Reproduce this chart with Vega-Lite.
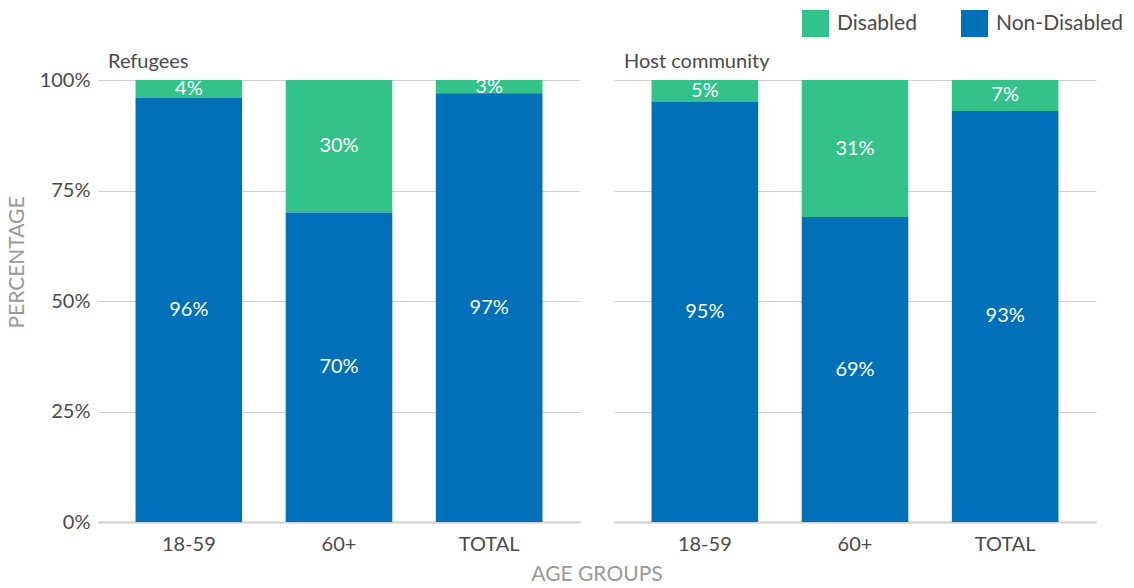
{
  "$schema": "https://vega.github.io/schema/vega-lite/v6.json",
  "padding": {"left": 6, "top": 10, "right": 5, "bottom": 3},
  "background": "white",
  "data": {"values": [
    {"population": "Refugees", "age": "18-59", "status": "Disabled", "value": 0.04},
    {"population": "Refugees", "age": "18-59", "status": "Non-Disabled", "value": 0.96},
    {"population": "Refugees", "age": "60+", "status": "Disabled", "value": 0.30},
    {"population": "Refugees", "age": "60+", "status": "Non-Disabled", "value": 0.70},
    {"population": "Refugees", "age": "TOTAL", "status": "Disabled", "value": 0.03},
    {"population": "Refugees", "age": "TOTAL", "status": "Non-Disabled", "value": 0.97},
    {"population": "Host community", "age": "18-59", "status": "Disabled", "value": 0.05},
    {"population": "Host community", "age": "18-59", "status": "Non-Disabled", "value": 0.95},
    {"population": "Host community", "age": "60+", "status": "Disabled", "value": 0.31},
    {"population": "Host community", "age": "60+", "status": "Non-Disabled", "value": 0.69},
    {"population": "Host community", "age": "TOTAL", "status": "Disabled", "value": 0.07},
    {"population": "Host community", "age": "TOTAL", "status": "Non-Disabled", "value": 0.93}
  ]},
  "facet": {
    "column": {
      "field": "population",
      "type": "nominal",
      "sort": ["Refugees", "Host community"],
      "title": "AGE GROUPS",
      "header": {
        "labelOrient": "top",
        "titleOrient": "bottom",
        "labelAnchor": "start",
        "labelAlign": "left",
        "labelExpr": "'\u200b\u2002' + datum.value",
        "labelFontSize": 20,
        "labelColor": "#4a4a4a",
        "labelFont": "Lato",
        "labelPadding": 4,
        "titleFontSize": 21,
        "titleFont": "Lato",
        "titleColor": "#999999",
        "titleFontWeight": "normal",
        "titlePadding": 0
      }
    }
  },
  "spacing": 34,
  "spec": {
    "width": 482,
    "height": 442,
    "encoding": {
      "x": {
        "field": "age",
        "type": "nominal",
        "sort": ["18-59", "60+", "TOTAL"],
        "title": null,
        "scale": {"paddingInner": 0.29, "paddingOuter": 0.25},
        "axis": {"labelAngle": 0, "labelFontSize": 20, "labelColor": "#4a4a4a", "labelFont": "Lato", "ticks": false, "domainColor": "#cccccc", "domainWidth": 2, "labelPadding": 12}
      },
      "y": {
        "field": "value",
        "type": "quantitative",
        "stack": "zero",
        "title": "PERCENTAGE",
        "scale": {"domain": [0, 1]},
        "axis": {
          "values": [0, 0.25, 0.5, 0.75, 1],
          "format": ".0%",
          "labelFontSize": 20,
          "labelColor": "#4a4a4a",
          "labelFont": "Lato",
          "ticks": false,
          "domain": false,
          "gridColor": "#d0d0d0",
          "labelPadding": 8,
          "titleFontSize": 21,
          "titleFont": "Lato",
          "titleColor": "#999999",
          "titleFontWeight": "normal",
          "titlePadding": 12,
          "titleY": 182
        }
      },
      "order": {"field": "status", "sort": "descending"}
    },
    "layer": [
      {
        "mark": {"type": "bar"},
        "encoding": {
          "color": {
            "field": "status",
            "type": "nominal",
            "scale": {"domain": ["Disabled", "Non-Disabled"], "range": ["#33C28A", "#0070B8"]},
            "legend": {
              "title": null,
              "orient": "none",
              "direction": "horizontal",
              "legendX": 704,
              "legendY": -70,
              "symbolType": "square",
              "symbolSize": 729,
              "symbolStrokeWidth": 0,
              "symbolOpacity": 1,
              "labelFontSize": 21,
              "labelFont": "Lato",
              "labelColor": "#4a4a4a",
              "columnPadding": 44,
              "labelOffset": 8
            }
          }
        }
      },
      {
        "mark": {"type": "text", "color": "white", "fontSize": 20, "font": "Lato"},
        "encoding": {
          "y": {"field": "value", "type": "quantitative", "stack": "zero", "bandPosition": 0.5},
          "text": {"field": "value", "type": "quantitative", "format": ".0%"}
        }
      }
    ]
  },
  "config": {"view": {"stroke": null}}
}
